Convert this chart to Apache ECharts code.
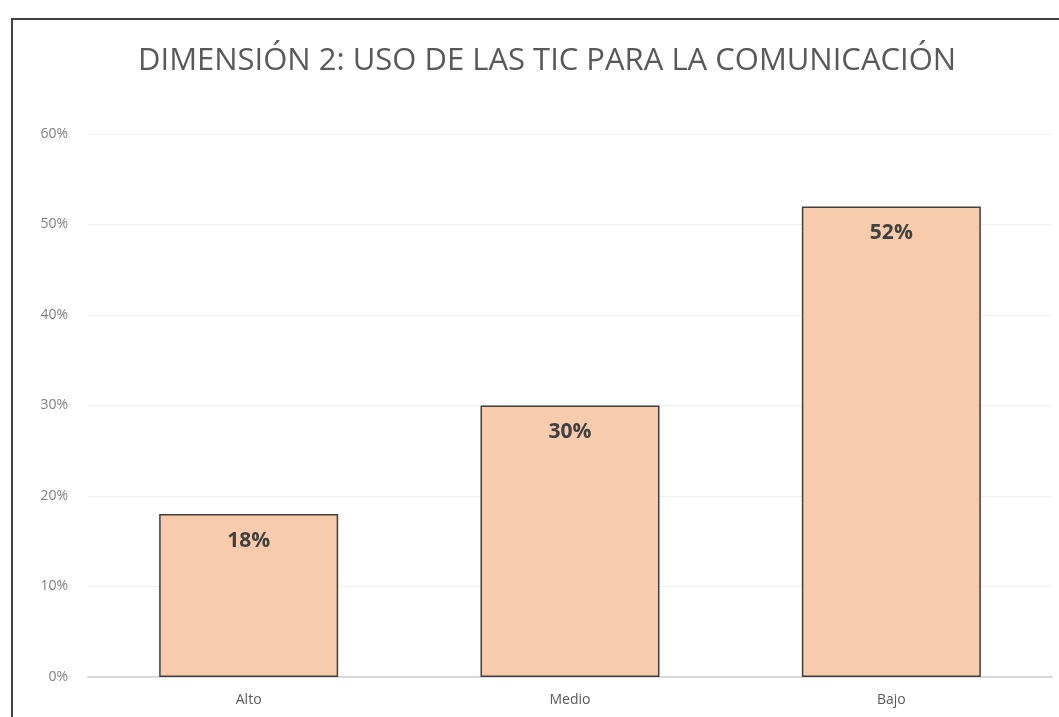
<!DOCTYPE html>
<html>
<head>
<meta charset="utf-8">
<script src="https://cdn.jsdelivr.net/npm/echarts@6/dist/echarts.min.js"></script>
<style>
  html, body { margin: 0; padding: 0; background: #fff; }
  #frame { position: absolute; left: 11px; top: 18px; width: 1048px; height: 699px;
           border-left: 2px solid #404040; border-top: 2px solid #404040; box-sizing: border-box; }
  #grafico { position: absolute; left: 0; top: 0; width: 1059px; height: 717px; }
</style>
</head>
<body>
<div id="frame"></div>
<div id="grafico"></div>
<script>
// datos del grafico
var categorias = ['Alto', 'Medio', 'Bajo'];
var valores = [0.18, 0.30, 0.52];
var titulo = 'DIMENSIÓN 2: USO DE LAS TIC PARA LA COMUNICACIÓN';

var pct = function (v) { return Math.round(v * 100) + '%'; };

var myChart = echarts.init(document.getElementById('grafico'));

var option = {
    animation: false,
    title: {
        text: titulo,
        left: 133,
        top: 41,
        textStyle: {
            fontFamily: 'Open Sans',
            fontSize: 31,
            fontWeight: 'normal',
            color: '#595959'
        }
    },
    grid: { left: 88, right: 7, top: 134, bottom: 40 },
    xAxis: {
        type: 'category',
        data: categorias,
        axisLine: { lineStyle: { color: '#d9d9d9', width: 2 } },
        axisTick: { show: false },
        axisLabel: { color: '#595959', fontSize: 14, fontFamily: 'Open Sans', margin: 16 }
    },
    yAxis: {
        type: 'value',
        min: 0,
        max: 0.6,
        interval: 0.1,
        axisLine: { show: false },
        axisTick: { show: false },
        splitLine: { lineStyle: { color: '#f0f0f0', width: 1 } },
        axisLabel: {
            formatter: pct,
            color: '#7f7f7f',
            fontSize: 14,
            fontFamily: 'Open Sans',
            margin: 20
        }
    },
    series: [
        {
            type: 'bar',
            data: valores,
            barWidth: 179,
            itemStyle: { color: '#f8cbad', borderColor: '#404040', borderWidth: 1.5 },
            label: {
                show: true,
                position: 'insideTop',
                distance: 16,
                formatter: function (p) { return pct(p.value); },
                color: '#404040',
                fontSize: 21,
                fontWeight: 'bold',
                fontFamily: 'Open Sans'
            }
        }
    ]
};

myChart.setOption(option);
</script>
</body>
</html>
